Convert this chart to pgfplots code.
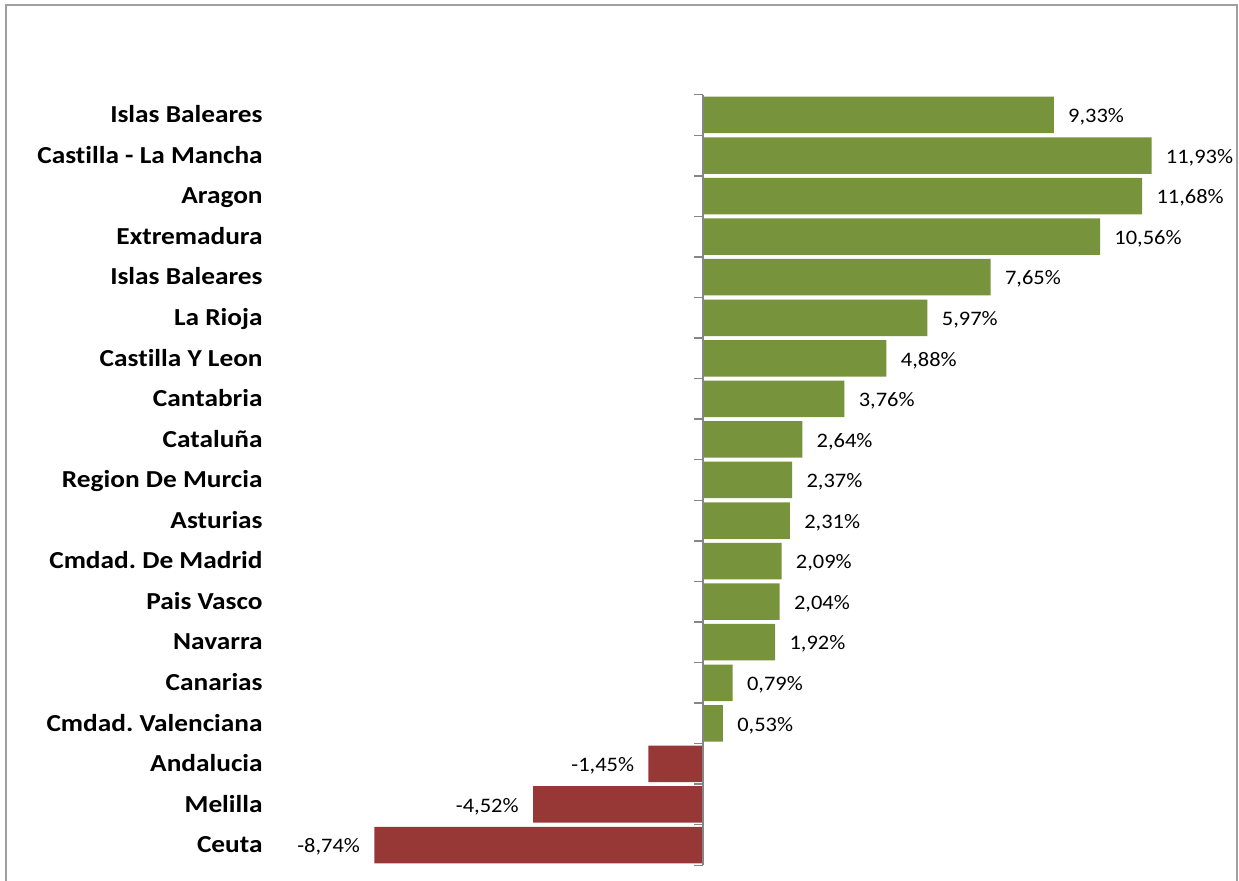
\documentclass[border=0pt]{standalone}
\usepackage{pgfplots}
\pgfplotsset{compat=1.18}
\usepackage{fontspec}
\setmainfont{Carlito}[Ligatures=NoCommon]
\newfontfamily\catfont{Carlito}[FakeStretch=1.12, Ligatures=NoCommon]
\newfontfamily\valfont{Carlito}[FakeStretch=1.09, Ligatures=NoCommon]
\frenchspacing
\definecolor{bargreen}{RGB}{119,147,60}
\definecolor{barred}{RGB}{152,56,54}
\definecolor{axgray}{RGB}{134,134,134}
\definecolor{framegray}{RGB}{160,160,160}
\begin{document}
\begin{tikzpicture}
\useasboundingbox (0,0) rectangle (619.5pt,440.5pt);
\draw[framegray, line width=1pt] (3pt,-5pt) -- (3pt,438.2pt) -- (618.5pt,438.2pt) -- (618.5pt,-5pt);
\begin{axis}[
  at={(163.5pt,7.85pt)}, anchor=south west,
  scale only axis, width=451.2pt, height=385.3pt,
  xmin=-10, xmax=14, ymin=-0.5, ymax=18.5,
  y dir=reverse,
  hide x axis,
  axis line style={draw=none},
  ytick={0,...,18},
  yticklabels={Islas Baleares,Castilla - La Mancha,Aragon,Extremadura,Islas Baleares,La Rioja,Castilla Y Leon,Cantabria,Cataluña,Region De Murcia,Asturias,Cmdad. De Madrid,Pais Vasco,Navarra,Canarias,Cmdad. Valenciana,Andalucia,Melilla,Ceuta},
  major tick length=0pt,
  yticklabel style={font=\catfont\bfseries\fontsize{12.2}{14}\selectfont\frenchspacing, inner sep=0pt, anchor=base east, xshift=-32pt, yshift=-3.85pt},
  xbar, bar width=0.9, bar shift=0pt,
  nodes near coords={\pgfmathprintnumber[fixed,fixed zerofill,precision=2,use comma,assume math mode=true]{\pgfplotspointmeta}\%},
  every node near coord/.append style={font=\valfont\fontsize{10.3}{12}\selectfont, inner sep=0pt, color=black},
  clip=false,
]
\addplot[fill=bargreen, draw=none, nodes near coords style={anchor=base west, xshift=7pt, yshift=-3.85pt}] coordinates {
(9.33,0) (11.93,1) (11.68,2) (10.56,3) (7.65,4) (5.97,5) (4.88,6) (3.76,7) (2.64,8) (2.37,9) (2.31,10) (2.09,11) (2.04,12) (1.92,13) (0.79,14) (0.53,15)
};
\addplot[fill=barred, draw=none, nodes near coords style={anchor=base east, xshift=-7pt, yshift=-3.85pt}] coordinates {
(-1.45,16) (-4.52,17) (-8.74,18)
};
\draw[axgray, line width=0.7pt] (axis cs:0,-0.5) -- (axis cs:0,18.5);
\pgfplotsinvokeforeach{0,...,19}{
  \draw[axgray, line width=0.7pt] (axis cs:0,#1-0.5) -- ([xshift=-4.5pt]axis cs:0,#1-0.5);
}
\end{axis}
\end{tikzpicture}
\end{document}
